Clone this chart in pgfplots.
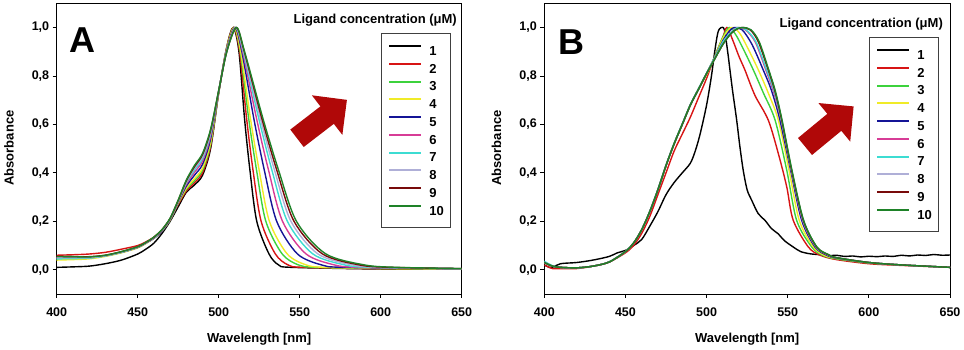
\documentclass[border=0pt]{standalone}
\usepackage{pgfplots}
\pgfplotsset{compat=1.18}
\usepackage{fontspec}
\setmainfont{Liberation Sans}
\definecolor{c1}{RGB}{0,0,0}
\definecolor{c2}{RGB}{215,20,20}
\definecolor{c3}{RGB}{60,210,60}
\definecolor{c4}{RGB}{240,235,40}
\definecolor{c5}{RGB}{20,20,150}
\definecolor{c6}{RGB}{215,60,150}
\definecolor{c7}{RGB}{60,220,210}
\definecolor{c8}{RGB}{175,175,215}
\definecolor{c9}{RGB}{120,10,10}
\definecolor{c10}{RGB}{30,130,40}
\definecolor{arrowred}{RGB}{176,8,8}
\pgfplotsset{
 spec/.style={
  scale only axis, width=405pt, height=290.7pt,
  xmin=400,xmax=650,ymin=-0.1,ymax=1.1,
  xtick={400,450,500,550,600,650}, ytick={0,0.2,0.4,0.6,0.8,1.0},
  tick pos=left, tick align=outside, major tick length=4pt,
  axis line style={line width=0.9pt},
  every tick/.style={line width=0.8pt, black},
  /pgf/number format/assume math mode=true,
  every tick label/.append style={font=\fontsize{12.5}{13}\selectfont\bfseries},
  xticklabel style={/pgf/number format/1000 sep={}, yshift=-6pt},
  yticklabel style={/pgf/number format/.cd,fixed,fixed zerofill,precision=1,use comma},
  xlabel={Wavelength [nm]}, ylabel={Absorbance},
  every axis label/.append style={font=\fontsize{13}{13}\selectfont\bfseries},
  xlabel style={at={(axis description cs:0.5,-0.155)},anchor=center},
  ylabel style={at={(axis description cs:-0.1178,0.502)},anchor=center},
  legend cell align=left,
  legend image code/.code={\draw[#1,line width=2pt] (0pt,4.6pt) -- (32pt,4.6pt);},
  legend style={font=\fontsize{13}{13}\selectfont\bfseries, draw=black!75, line width=0.8pt,
    inner xsep=7pt, inner ysep=11.8pt, row sep=7.5pt, anchor=north west,
    nodes={inner sep=0pt, text height=9.3pt, text depth=0pt},
    /tikz/every odd column/.style={column sep=7pt}},
  every axis plot/.append style={line width=1.4pt, smooth, tension=0.5, no markers},
 }
}
\begin{document}
\begin{tikzpicture}
%================ Panel A
\begin{axis}[spec, at={(56.7pt,56pt)}, anchor=south west,
  legend style={at={(axis description cs:0.8007,0.8978)}}]
\addplot[c1] coordinates {(400,.01)(410,.012)(420,.015)(430,.025)(440,.04)(450,.065)(455,.085)(460,.11)(465,.15)(470,.2)(475,.26)(480,.32)(485,.35)(490,.39)(495,.50)(500,.73)(505,.92)(509,1.0)(512.5,.9)(516,.62)(519.3,.41)(523.5,.2)(531,.066)(537,.02)(545,.01)(600,.003)(650,.002)};
\addplot[c2] coordinates {(400,.06)(410,.062)(420,.065)(430,.072)(440,.085)(450,.10)(455,.115)(460,.135)(465,.165)(470,.21)(475,.27)(480,.325)(485,.359)(490,.40)(495,.509)(500,.731)(505,.918)(509.2,1.0)(512.9,.9)(517.3,.62)(521.2,.41)(526.2,.2)(534.9,.066)(542.8,.02)(552.2,.01)(600,.004)(650,.003)};
\addplot[c3] coordinates {(400,.045)(410,.047)(420,.05)(430,.058)(440,.072)(450,.092)(455,.11)(460,.13)(465,.16)(470,.205)(475,.275)(480,.332)(485,.368)(490,.411)(495,.518)(500,.732)(505,.915)(509.5,1)(513.3,.9)(518.6,.62)(523.4,.41)(529.1,.2)(539.1,.066)(549.2,.02)(560,.01)(600,.005)(650,.003)};
\addplot[c4] coordinates {(400,.04)(410,.042)(420,.045)(430,.055)(440,.07)(450,.09)(455,.108)(460,.13)(465,.16)(470,.205)(475,.275)(480,.336)(485,.376)(490,.419)(495,.526)(500,.733)(505,.914)(509.6,1)(513.6,.9)(519.7,.62)(525,.41)(531.3,.2)(542.2,.066)(554,.02)(565.8,.01)(610,.005)(650,.003)};
\addplot[c5] coordinates {(400,.05)(410,.05)(420,.05)(430,.058)(440,.072)(450,.092)(455,.11)(460,.13)(465,.16)(470,.207)(475,.278)(480,.345)(485,.39)(490,.435)(495,.54)(500,.735)(505,.91)(510,1)(514.3,.9)(521.8,.62)(528.2,.41)(535.8,.2)(548.5,.066)(563.5,.02)(577.5,.01)(650,.004)};
\addplot[c6] coordinates {(400,.05)(410,.05)(420,.05)(430,.058)(440,.073)(450,.093)(455,.11)(460,.131)(465,.162)(470,.208)(475,.28)(480,.353)(485,.402)(490,.449)(495,.552)(500,.737)(505,.907)(510.3,1)(514.8,.9)(523.5,.62)(530.8,.41)(539.4,.2)(553.8,.066)(571.5,.02)(587.3,.01)(650,.004)};
\addplot[c7] coordinates {(400,.045)(410,.046)(420,.048)(430,.057)(440,.072)(450,.093)(455,.11)(460,.132)(465,.163)(470,.21)(475,.282)(480,.359)(485,.412)(490,.459)(495,.562)(500,.738)(505,.905)(510.5,1)(515.2,.9)(524.9,.62)(532.9,.41)(542.4,.2)(558,.066)(577.8,.02)(595,.01)(650,.004)};
\addplot[c8] coordinates {(400,.05)(410,.05)(420,.05)(430,.058)(440,.073)(450,.094)(455,.111)(460,.133)(465,.164)(470,.211)(475,.284)(480,.363)(485,.419)(490,.467)(495,.569)(500,.739)(505,.903)(510.7,1)(515.5,.9)(525.9,.62)(534.5,.41)(544.6,.2)(561.1,.066)(582.6,.02)(600.9,.01)(650,.005)};
\addplot[c9] coordinates {(400,.055)(410,.054)(420,.054)(430,.06)(440,.075)(450,.095)(455,.112)(460,.134)(465,.165)(470,.212)(475,.286)(480,.367)(485,.425)(490,.475)(495,.575)(500,.739)(505,.901)(510.9,1)(515.8,.9)(526.8,.62)(535.9,.41)(546.5,.2)(563.9,.066)(586.8,.02)(606.1,.01)(650,.005)};
\addplot[c10] coordinates {(400,.055)(410,.054)(420,.053)(430,.06)(440,.075)(450,.095)(455,.113)(460,.135)(465,.166)(470,.213)(475,.288)(480,.37)(485,.43)(490,.48)(495,.58)(500,.74)(505,.90)(511,1)(516,.9)(527.5,.62)(537,.41)(548,.2)(566,.066)(590,.02)(610,.01)(650,.005)};
\legend{1,2,3,4,5,6,7,8,9,10}
\node[anchor=east, font=\fontsize{13}{13}\selectfont\bfseries, inner sep=0pt] at (axis description cs:0.9884,0.9426) {Ligand concentration (μM)};
\node[font=\fontsize{36}{36}\selectfont\bfseries, inner sep=0pt] at (axis description cs:0.0637,0.8738) {A};
\end{axis}
%================ Panel B
\begin{axis}[spec, at={(544.3pt,56pt)}, anchor=south west, width=405.7pt,
  legend style={at={(axis description cs:0.8003,0.884)}}]
\addplot[c1] coordinates {(400,.02)(403,.01)(405,.01)(410,.025)(420,.03)(430,.04)(440,.055)(445,.07)(450,.08)(455,.1)(460,.125)(465,.18)(470,.24)(475,.31)(480,.36)(485,.40)(490,.44)(493,.49)(496,.56)(500,.68)(503,.8)(505,.9)(507,.98)(509,1.0)(511,.99)(513,.9)(514.4,.825)(516,.74)(518.5,.62)(520.5,.51)(522.6,.41)(525,.33)(527.8,.287)(531.8,.232)(536,.204)(540,.17)(544,.149)(548,.12)(553.4,.094)(558,.075)(563.7,.066)(570,.062)(575,.058)(580,.06)(585,.055)(590,.057)(595,.053)(600,.056)(605,.054)(610,.057)(615,.055)(620,.06)(625,.057)(630,.061)(635,.059)(640,.063)(645,.06)(650,.061)};
\addplot[c2] coordinates {(400,.02)(405,.005)(410,.005)(420,.005)(430,.015)(440,.032)(450,.07)(455,.1)(460,.15)(465,.22)(470,.31)(475,.40)(480,.49)(485,.56)(490,.63)(495,.71)(500,.79)(505,.88)(510,.96)(512.5,1.0)(516,.95)(520,.88)(523.6,.825)(529.8,.72)(538,.618)(544.2,.48)(549.4,.342)(553.4,.204)(562.7,.094)(570,.06)(580,.042)(600,.025)(620,.018)(650,.01)};
\addplot[c3] coordinates {(400,.03)(405,.015)(410,.01)(420,.008)(430,.015)(440,.032)(450,.075)(455,.11)(460,.165)(465,.24)(470,.33)(475,.43)(480,.52)(485,.60)(490,.68)(495,.745)(500,.81)(505,.88)(510,.96)(514,1.0)(518,.97)(522,.92)(528.8,.825)(535,.73)(542.2,.618)(549.4,.411)(555.5,.204)(564.8,.094)(572,.058)(580,.045)(600,.028)(620,.02)(650,.01)};
\addplot[c4] coordinates {(400,.03)(405,.015)(410,.01)(420,.008)(430,.015)(440,.032)(450,.075)(455,.11)(460,.165)(465,.24)(470,.33)(475,.43)(480,.52)(485,.60)(490,.68)(495,.745)(500,.805)(505,.875)(510,.955)(515,1.0)(520,.98)(525,.92)(531.9,.825)(538,.73)(544.2,.618)(550.8,.411)(557.1,.204)(565.8,.094)(573,.058)(580,.047)(600,.03)(620,.02)(650,.01)};
\addplot[c5] coordinates {(400,.03)(405,.015)(410,.01)(420,.008)(430,.015)(440,.032)(450,.075)(455,.11)(460,.165)(465,.24)(470,.33)(475,.43)(480,.52)(485,.60)(490,.68)(495,.745)(500,.81)(505,.875)(510,.945)(514,.985)(517,1.0)(522,.99)(528,.93)(534.9,.825)(540,.74)(545.2,.618)(551.8,.411)(558.6,.204)(566.8,.094)(574,.06)(580,.048)(600,.03)(620,.02)(650,.01)};
\addplot[c6] coordinates {(400,.03)(405,.015)(410,.01)(420,.008)(430,.015)(440,.032)(450,.075)(455,.11)(460,.165)(465,.24)(470,.33)(475,.43)(480,.52)(485,.60)(490,.68)(495,.745)(500,.81)(505,.875)(510,.94)(515,.98)(519,1.0)(524,.99)(530,.94)(536.5,.825)(541,.74)(546,.618)(552.2,.411)(559.2,.204)(567.4,.094)(575,.06)(580,.05)(600,.03)(620,.02)(650,.01)};
\addplot[c7] coordinates {(400,.035)(405,.017)(410,.01)(420,.008)(430,.015)(440,.033)(450,.076)(455,.111)(460,.166)(465,.242)(470,.333)(475,.433)(480,.523)(485,.603)(490,.683)(495,.748)(500,.812)(505,.875)(510,.94)(515,.98)(519.5,1.0)(524.5,.99)(530.5,.94)(537,.825)(541.5,.74)(546.1,.618)(552.3,.411)(559.4,.204)(567.6,.094)(575,.061)(580,.05)(600,.03)(620,.02)(650,.01)};
\addplot[c8] coordinates {(400,.03)(405,.015)(410,.01)(420,.008)(430,.015)(440,.032)(450,.075)(455,.11)(460,.165)(465,.24)(470,.33)(475,.43)(480,.52)(485,.60)(490,.68)(495,.745)(500,.81)(505,.87)(510,.93)(515,.975)(519,.995)(522,1.0)(527,.99)(532,.94)(538,.825)(542,.74)(546.3,.618)(552.4,.411)(559.6,.204)(567.8,.094)(575,.062)(580,.05)(600,.03)(620,.02)(650,.01)};
\addplot[c9] coordinates {(400,.03)(405,.015)(410,.01)(420,.008)(430,.015)(440,.032)(450,.075)(455,.11)(460,.165)(465,.24)(470,.33)(475,.43)(480,.52)(485,.60)(490,.68)(495,.745)(500,.81)(505,.87)(510,.93)(515,.975)(519,.995)(522,1.0)(527,.99)(532,.94)(538,.825)(542,.74)(546.3,.618)(552.4,.411)(559.6,.204)(567.8,.094)(575,.062)(580,.05)(600,.03)(620,.02)(650,.01)};
\addplot[c10] coordinates {(400,.03)(405,.015)(410,.01)(420,.008)(430,.015)(440,.032)(450,.075)(455,.11)(460,.165)(465,.24)(470,.33)(475,.43)(480,.52)(485,.60)(490,.68)(495,.745)(500,.81)(505,.87)(510,.93)(515,.975)(519,.995)(522.5,1.0)(527.5,.99)(532.5,.94)(538.3,.825)(542.3,.74)(546.5,.618)(552.6,.411)(559.8,.204)(568,.094)(575,.063)(580,.05)(600,.03)(620,.02)(650,.01)};
\legend{1,2,3,4,5,6,7,8,9,10}
\node[anchor=east, font=\fontsize{13}{13}\selectfont\bfseries, inner sep=0pt] at (axis description cs:0.9828,0.9288) {Ligand concentration (μM)};
\node[font=\fontsize{36}{36}\selectfont\bfseries, inner sep=0pt] at (axis description cs:0.0675,0.867) {B};
\end{axis}
%================ arrows
\begin{scope}[shift={(297pt,211.7pt)}, rotate=37.6]
\fill[arrowred] (0pt,-11pt) -- (38pt,-11pt) -- (38pt,-25pt) -- (63pt,0pt) -- (38pt,25pt) -- (38pt,11pt) -- (0pt,11pt) -- cycle;
\end{scope}
\begin{scope}[shift={(805pt,203.5pt)}, rotate=39.5]
\fill[arrowred] (0pt,-11pt) -- (38pt,-11pt) -- (38pt,-25pt) -- (63pt,0pt) -- (38pt,25pt) -- (38pt,11pt) -- (0pt,11pt) -- cycle;
\end{scope}
\pgfresetboundingbox
\path (0pt,0pt) rectangle (964pt,350pt);
\end{tikzpicture}
\end{document}
